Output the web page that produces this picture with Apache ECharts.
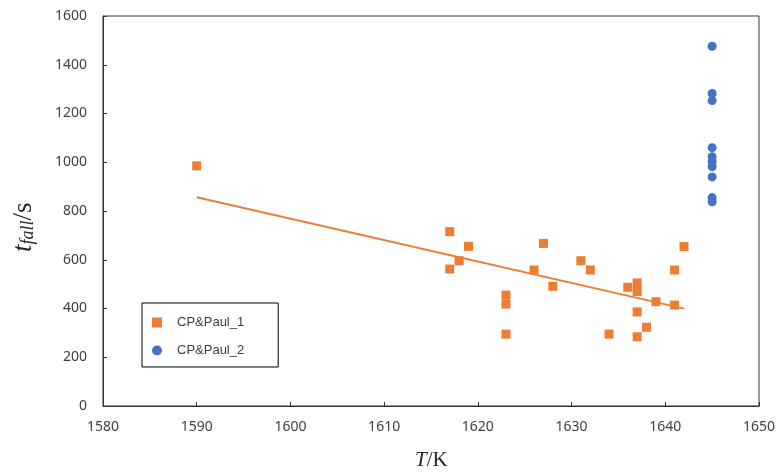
<!DOCTYPE html>
<html>
<head>
<meta charset="utf-8">
<script src="https://cdn.jsdelivr.net/npm/echarts@6/dist/echarts.min.js"></script>
<style>
  html, body { margin: 0; padding: 0; background: #fff; }
  #chart { width: 778px; height: 475px; }
</style>
</head>
<body>
<div id="chart"></div>
<script>
  // CP&Paul_1 (orange squares)
  var paul1T = [1590, 1617, 1617, 1618, 1619, 1623, 1623, 1623, 1626, 1627, 1628, 1631,
                1632, 1634, 1636, 1637, 1637, 1637, 1637, 1638, 1639, 1641, 1641, 1642];
  var paul1Fall = [985, 715, 562, 596, 655, 455, 418, 295, 558, 667, 491, 596,
                   558, 295, 487, 505, 470, 386, 284, 323, 428, 558, 414, 654];
  // CP&Paul_2 (blue circles)
  var paul2T = [1645, 1645, 1645, 1645, 1645, 1645, 1645, 1645, 1645, 1645];
  var paul2Fall = [1476, 1282, 1253, 1060, 1023, 1003, 982, 940, 855, 838];

  var xTicks = { min: 1580, max: 1650, interval: 10 };
  var yTicks = { min: 0, max: 1600, interval: 200 };

  function zip (xs, ys) {
    return xs.map(function (x, i) { return [x, ys[i]] })
  }

  // linear trendline (least squares) over CP&Paul_1
  function trend (xs, ys) {
    var n = xs.length, mx = 0, my = 0
    for (var i = 0; i < n; i++) { mx += xs[i]; my += ys[i] }
    mx /= n; my /= n
    var sxx = 0, sxy = 0
    for (var j = 0; j < n; j++) {
      sxx += (xs[j] - mx) * (xs[j] - mx)
      sxy += (xs[j] - mx) * (ys[j] - my)
    }
    var k = sxy / sxx
    var x0 = Math.min.apply(null, xs), x1 = Math.max.apply(null, xs)
    return [[x0, my + k * (x0 - mx)], [x1, my + k * (x1 - mx)]]
  }

  var labelStyle = {
    color: '#404040', fontSize: 14, fontFamily: 'Noto Sans',
    formatter: function (v) { return String(v) }
  }

  var option = {
    animation: false,
    grid: { left: 103, right: 19, top: 16, bottom: 69, show: true, borderColor: '#333', borderWidth: 1 },
    legend: {
      data: ['CP&Paul_1', 'CP&Paul_2'],
      orient: 'vertical',
      left: 142,
      top: 303,
      padding: [13, 34, 10, 10],
      itemGap: 15,
      itemWidth: 10,
      itemHeight: 10,
      borderColor: '#000',
      borderWidth: 1,
      textStyle: { color: '#404040', fontSize: 13, fontFamily: 'Liberation Sans', padding: [0, 0, 0, 10] }
    },
    xAxis: {
      type: 'value',
      min: xTicks.min, max: xTicks.max, interval: xTicks.interval,
      axisLine: { lineStyle: { color: '#333' } },
      axisTick: { inside: true, length: 4, lineStyle: { color: '#333' } },
      axisLabel: Object.assign({ margin: 14 }, labelStyle),
      splitLine: { show: false }
    },
    yAxis: {
      type: 'value',
      min: yTicks.min, max: yTicks.max, interval: yTicks.interval,
      axisLine: { show: true, lineStyle: { color: '#333' } },
      axisTick: { show: true, inside: true, length: 4, lineStyle: { color: '#333' } },
      axisLabel: Object.assign({ margin: 16 }, labelStyle),
      splitLine: { show: false }
    },
    graphic: [
      {
        type: 'text',
        left: 415, top: 450,
        style: {
          rich: {
            i: { fontFamily: 'Liberation Serif', fontStyle: 'italic', fontSize: 21, fill: '#262626' },
            r: { fontFamily: 'Liberation Serif', fontSize: 21, fill: '#262626' }
          },
          text: '{i|T}{r|/K}'
        }
      },
      {
        type: 'text',
        x: 10, y: 252,
        rotation: Math.PI / 2,
        style: {
          rich: {
            t: { fontFamily: 'Liberation Serif', fontStyle: 'italic', fontSize: 27, fill: '#262626', verticalAlign: 'top', lineHeight: 27 },
            sub: { fontFamily: 'Liberation Serif', fontStyle: 'italic', fontSize: 18, fill: '#262626', verticalAlign: 'bottom', lineHeight: 18 },
            r: { fontFamily: 'Liberation Serif', fontSize: 27, fill: '#262626', verticalAlign: 'top', lineHeight: 27 }
          },
          text: '{t|t}{sub|fall}{r|/s}'
        }
      }
    ],
    series: [
      {
        name: 'CP&Paul_1',
        type: 'scatter',
        symbol: 'rect',
        symbolSize: 9,
        itemStyle: { color: '#ED7D31', opacity: 1 },
        data: zip(paul1T, paul1Fall),
        z: 3
      },
      {
        name: 'CP&Paul_2',
        type: 'scatter',
        symbol: 'circle',
        symbolSize: 9,
        itemStyle: { color: '#4472C4', opacity: 1 },
        data: zip(paul2T, paul2Fall),
        z: 3
      },
      {
        name: 'trend',
        type: 'line',
        data: trend(paul1T, paul1Fall),
        symbol: 'none',
        silent: true,
        lineStyle: { color: '#ED7D31', width: 2 },
        z: 2
      }
    ]
  }

  var chart = echarts.init(document.getElementById('chart'))
  chart.setOption(option)
</script>
</body>
</html>
